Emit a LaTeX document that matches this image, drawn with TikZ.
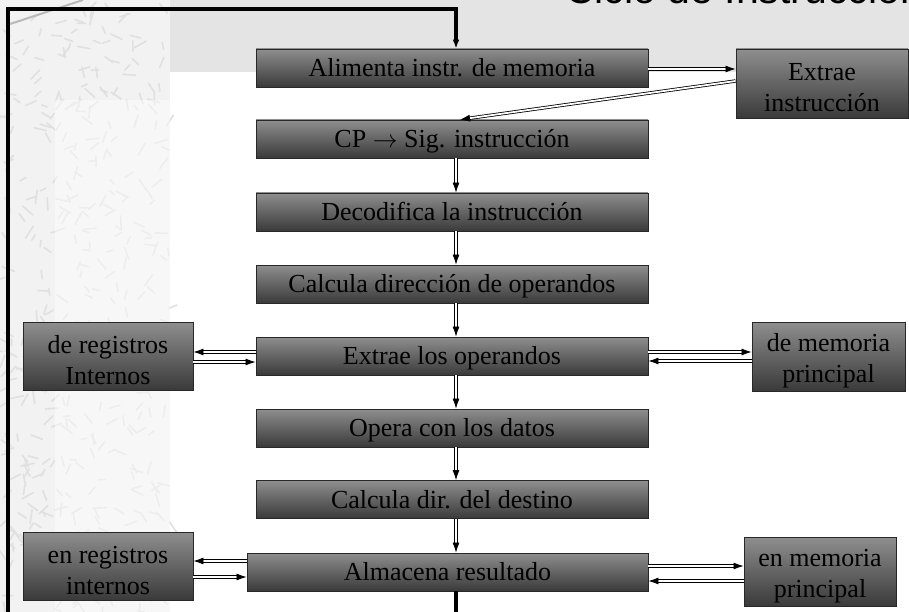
\documentclass[tikz,border=0pt]{standalone}
\usepackage{fontspec}
\setmainfont{Liberation Serif}
\newfontfamily\titlesans{Liberation Sans}
\usetikzlibrary{arrows.meta}
\newcommand{\sbpad}{\rule{0pt}{26pt}}
\definecolor{boxtop}{RGB}{142,142,142}
\definecolor{boxbot}{RGB}{58,58,58}
\definecolor{boxline}{RGB}{40,40,40}
\definecolor{bandgray}{RGB}{228,228,228}
\definecolor{stripgray}{RGB}{242,242,242}
\definecolor{glyphgray}{RGB}{224,224,224}
\tikzset{
  mainbox/.style={draw=boxline, line width=0.9pt, top color=boxtop, bottom color=boxbot,
    minimum width=392pt, minimum height=38pt, inner sep=0pt,
    text height=19pt, text depth=2pt,
    font=\fontsize{26}{29}\selectfont, align=center},
  sidebox/.style={draw=boxline, line width=0.9pt, top color=boxtop, bottom color=boxbot,
    minimum height=68pt, inner sep=0pt,
    font=\fontsize{26}{31}\selectfont, align=center},
  dbl/.style={draw=black, double=white, double distance=1.8pt, line width=0.8pt,
    -{Latex[length=10pt,width=7pt]}},
  loopline/.style={draw=black, line width=3.3pt, -{Latex[length=9pt,width=7pt]}}
}
\begin{document}
\begin{tikzpicture}[x=1pt,y=-1pt]
\useasboundingbox (0,0) rectangle (909,612);
\clip (0,0) rectangle (909,612);
% background
\fill[white] (0,0) rectangle (909,612);
\fill[stripgray] (0,0) rectangle (170,612);
\pgfmathsetseed{7}
\foreach \i in {1,...,420} {
  \pgfmathsetmacro{\gx}{rnd*170}
  \pgfmathsetmacro{\gy}{rnd*612}
  \pgfmathsetmacro{\ga}{rnd*360}
  \pgfmathsetmacro{\gl}{6+rnd*8}
  \draw[glyphgray, line width=1.6pt, line cap=round] (\gx,\gy) -- ++(\ga:\gl);
}
\fill[white, opacity=0.45] (55,100) rectangle (170,612);
\fill[bandgray] (170,0) rectangle (909,72);
\draw[gray!55, line width=2pt] (7,25) -- (83,0);
% title
\node[anchor=base west, inner sep=0pt, font=\titlesans\fontsize{41}{45}\selectfont] (title) at (565,4) {Ciclo de Instrucción};
% main column
\node[mainbox] (ali) at (452,68) {Alimenta instr. de memoria};
\node[mainbox] (cp) at (452,139) {CP $\rightarrow$ Sig. instrucción};
\node[mainbox] (dec) at (452,212) {Decodifica la instrucción};
\node[mainbox] (cdo) at (452,284) {Calcula dirección de operandos};
\node[mainbox] (ext) at (452,356) {Extrae los operandos};
\node[mainbox] (ope) at (452,428) {Opera con los datos};
\node[mainbox] (cdd) at (452,499.5) {Calcula dir. del destino};
\node[mainbox, minimum width=401pt] (alm) at (447.5,572) {Almacena resultado};
% side boxes
\node[sidebox, minimum width=172pt, minimum height=69pt] (exi) at (822,83.5) {\sbpad Extrae\\instrucción};
\node[sidebox, minimum width=170pt] (dri) at (108,356) {\sbpad de registros\\Internos};
\node[sidebox, minimum width=153pt, minimum height=69pt] (dmp) at (828.5,356.5) {\sbpad de memoria\\principal};
\node[sidebox, minimum width=170pt] (eri) at (108,566) {\sbpad en registros\\internos};
\node[sidebox, minimum width=152pt, minimum height=69pt] (emp) at (820,571.5) {\sbpad en memoria\\principal};
% top arrows
\draw[dbl] (ali.east |- 0,69) -- (exi.west |- 0,69);
\draw[dbl] (exi.west |- 0,81) -- ([xshift=8pt]cp.north);
% vertical arrows
\draw[dbl] ([xshift=4pt]cp.south) -- ([xshift=4pt]dec.north);
\draw[dbl] ([xshift=4pt]dec.south) -- ([xshift=4pt]cdo.north);
\draw[dbl] ([xshift=4pt]cdo.south) -- ([xshift=4pt]ext.north);
\draw[dbl] ([xshift=4pt]ext.south) -- ([xshift=4pt]ope.north);
\draw[dbl] ([xshift=4pt]ope.south) -- ([xshift=4pt]cdd.north);
\draw[dbl] ([xshift=4pt]cdd.south) -- ([xshift=8.5pt]alm.north);
% Extrae los operandos side arrows
\draw[dbl] (ext.west |- 0,352) -- (dri.east |- 0,352);
\draw[dbl] (dri.east |- 0,362) -- (ext.west |- 0,362);
\draw[dbl] (ext.east |- 0,352) -- (dmp.west |- 0,352);
\draw[dbl] (dmp.west |- 0,361) -- (ext.east |- 0,361);
% Almacena side arrows
\draw[dbl] (alm.west |- 0,561) -- (eri.east |- 0,561);
\draw[dbl] (eri.east |- 0,577) -- (alm.west |- 0,577);
\draw[dbl] (alm.east |- 0,566) -- (emp.west |- 0,566);
\draw[dbl] (emp.west |- 0,581) -- (alm.east |- 0,581);
% feedback loop
\coordinate (lb) at (8,640);
\coordinate (lt) at (8,9);
\draw[loopline] ([xshift=8.5pt]alm.south) |- (lb) -- (lt) -| ([xshift=4pt]ali.north);
\end{tikzpicture}
\end{document}
